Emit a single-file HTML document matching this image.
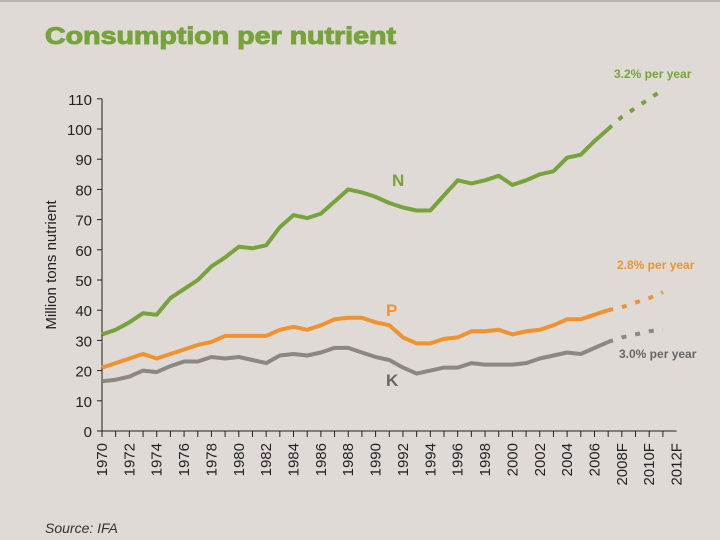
<!DOCTYPE html>
<html><head><meta charset="utf-8"><style>
html,body{margin:0;padding:0;background:#dfdad5;}
svg{display:block;font-family:"Liberation Sans",sans-serif;}
</style></head><body>
<svg id="chart" width="720" height="540" viewBox="0 0 720 540">
<rect x="0" y="0" width="720" height="540" fill="#dfdad5"/>
<rect x="0" y="0" width="720" height="2" fill="#b8b4b0"/>
<text x="45" y="44" font-size="24" font-weight="bold" fill="#76a33a" stroke="#76a33a" stroke-width="1" textLength="351" lengthAdjust="spacingAndGlyphs">Consumption per nutrient</text>
<text x="56" y="265" font-size="15" fill="#222" text-anchor="middle" transform="rotate(-90 56 265)">Million tons nutrient</text>
<text x="45" y="533" font-size="14" font-style="italic" fill="#333">Source: IFA</text>
<g id="axes"></g>
<g id="series"></g>
<text x="392" y="186" font-size="17" font-weight="bold" fill="#76a33a">N</text>
<text x="386" y="316" font-size="17" font-weight="bold" fill="#f0922f">P</text>
<text x="386" y="386" font-size="17" font-weight="bold" fill="#666">K</text>
<text x="614" y="78" font-size="12" font-weight="bold" fill="#76a33a">3.2% per year</text>
<text x="617" y="269" font-size="12" font-weight="bold" fill="#f0922f">2.8% per year</text>
<text x="619" y="358" font-size="12" font-weight="bold" fill="#666">3.0% per year</text>
</svg>
<script>
const years = [1970,1971,1972,1973,1974,1975,1976,1977,1978,1979,1980,1981,1982,1983,1984,1985,1986,1987,1988,1989,1990,1991,1992,1993,1994,1995,1996,1997,1998,1999,2000,2001,2002,2003,2004,2005,2006,2007];
const forecastYears = [2007,2008,2009,2010,2011];
const nValues = [32,33.5,36,39,38.5,44,47,50,54.5,57.5,61,60.5,61.5,67.5,71.5,70.5,72,76,80,79,77.5,75.5,74,73,73,78,83,82,83,84.5,81.5,83,85,86,90.5,91.5,96,100];
const nForecast = [100,104,107,110,113];
const pValues = [21,22.5,24,25.5,24,25.5,27,28.5,29.5,31.5,31.5,31.5,31.5,33.5,34.5,33.5,35,37,37.5,37.5,36,35,31,29,29,30.5,31,33,33,33.5,32,33,33.5,35,37,37,38.5,40];
const pForecast = [40,41,42.5,44,46];
const kValues = [16.5,17,18,20,19.5,21.5,23,23,24.5,24,24.5,23.5,22.5,25,25.5,25,26,27.5,27.5,26,24.5,23.5,21,19,20,21,21,22.5,22,22,22,22.5,24,25,26,25.5,27.5,29.5];
const kForecast = [29.5,31,32,33,33.5];
const yTicks = [0,10,20,30,40,50,60,70,80,90,100,110];
const xTickLabels = ["1970","1972","1974","1976","1978","1980","1982","1984","1986","1988","1990","1992","1994","1996","1998","2000","2002","2004","2006","2008F","2010F","2012F"];

const NS="http://www.w3.org/2000/svg";
const X0=102, XS=13.68, Y0=431, YS=3.02;
function xs(y){return X0+(y-1970)*XS;}
function ys(v){return Y0-v*YS;}
function mk(t,a,p){const e=document.createElementNS(NS,t);for(const k in a)e.setAttribute(k,a[k]);p.appendChild(e);return e;}
const axes=document.getElementById('axes'), series=document.getElementById('series');

const ya=mk('line',{x1:X0,y1:ys(110),x2:X0,y2:Y0,stroke:'#222','stroke-width':1},axes);


const xa=mk('line',{x1:X0,y1:Y0,x2:xs(2012),y2:Y0,stroke:'#222','stroke-width':1},axes);


yTicks.forEach(v=>{
  mk('line',{x1:X0-5,y1:ys(v),x2:X0,y2:ys(v),stroke:'#222'},axes);
  const t=mk('text',{x:X0-10,y:ys(v)+6,'font-size':15,fill:'#222','text-anchor':'end'},axes);
  t.textContent=v;
  
  
});
for(let y=1970;y<=2011;y++){
  mk('line',{x1:xs(y),y1:Y0,x2:xs(y),y2:Y0+6,stroke:'#222'},axes);
}
xTickLabels.forEach(lbl=>{
  const yr=parseInt(lbl);
  const x=xs(yr)+5, y=443;
  const t=mk('text',{x:x,y:y,'font-size':15,fill:'#222','text-anchor':'end',transform:`rotate(-90 ${x} ${y})`},axes);
  t.textContent=lbl;
  
  
});
function path(xv,vals,color,dash,name){
  const d=vals.map((v,i)=>(i?'L':'M')+xs(xv[i]).toFixed(1)+' '+ys(v).toFixed(1)).join(' ');
  const p=mk('path',{d:d,fill:'none',stroke:color,'stroke-width':4,'stroke-linejoin':'round'},series);
  if(dash)p.setAttribute('stroke-dasharray','5 9');
  
  
}
path(years,nValues,'#76a33a',false,'series-n-line');
path(forecastYears,nForecast,'#76a33a',true,'series-n-forecast');
path(years,pValues,'#f0922f',false,'series-p-line');
path(forecastYears,pForecast,'#f0922f',true,'series-p-forecast');
path(years,kValues,'#8a8787',false,'series-k-line');
path(forecastYears,kForecast,'#8a8787',true,'series-k-forecast');
</script>
</body></html>
